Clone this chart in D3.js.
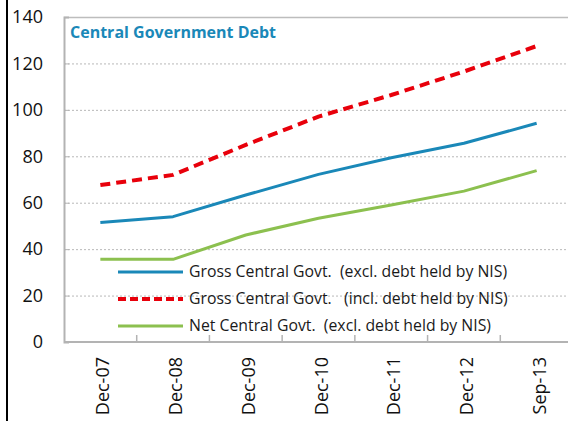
<!DOCTYPE html>
<html><head><meta charset="utf-8">
<script src="https://cdn.jsdelivr.net/npm/d3@7/dist/d3.min.js"></script>
<style>body{margin:0;background:#fff;overflow:hidden}svg{display:block}</style>
</head><body><svg id="c" width="568" height="421"></svg>
<script>
const categories = ["Dec-07","Dec-08","Dec-09","Dec-10","Dec-11","Dec-12","Sep-13"];
const grossExcl = [51.5, 54, 63.3, 72.2, 79.4, 85.6, 94.2];
const grossIncl = [67.6, 72, 84.9, 97.1, 106.4, 116.5, 127.5];
const netExcl   = [35.6, 35.6, 46.1, 53.3, 59, 65, 73.8];
const yTicks = [0,20,40,60,80,100,120,140];
const seriesNames = ["Gross Central Govt.  (excl. debt held by NIS)","Gross Central Govt.   (incl. debt held by NIS)","Net Central Govt.  (excl. debt held by NIS)"];
const title = "Central Government Debt";

const svg = d3.select("#c");
const font = "'Open Sans', sans-serif";
const L = 64, R = 573, T = 17, B = 342;
const x = d3.scaleBand().domain(categories).range([L, R]);
const y = d3.scaleLinear().domain([0, 140]).range([B, T]);

// outer black left border
svg.append("line").attr("x1",7).attr("x2",7).attr("y1",0).attr("y2",421).attr("stroke","#000").attr("stroke-width",2);

// gridlines
svg.append("g").selectAll("line").data(yTicks.filter(d=>d>0 && d<140)).join("line")
  .attr("x1",L).attr("x2",R).attr("y1",d=>y(d)+0.5).attr("y2",d=>y(d)+0.5)
  .attr("stroke","#b8b8b8").attr("stroke-width",1).attr("stroke-dasharray","2,2");
// top border
svg.append("line").attr("x1",L).attr("x2",R).attr("y1",y(140)+0.5).attr("y2",y(140)+0.5).attr("stroke","#bdbdbd").attr("stroke-width",1.5);

// y axis
const ya = svg.append("g").attr("transform",`translate(${L},0)`)
  .call(d3.axisLeft(y).tickValues(yTicks).tickSize(-5).tickPadding(21));
ya.select(".domain").attr("stroke","#b3b3b3").attr("stroke-width",2);
ya.selectAll(".tick line").attr("stroke","#b3b3b3");
ya.selectAll("text").attr("font-family",font).attr("font-size",18).attr("fill","#111");

// x axis
const xa = svg.append("g").attr("transform",`translate(0,${B})`);
xa.append("line").attr("x1",L).attr("x2",R).attr("y1",0).attr("y2",0).attr("stroke","#b3b3b3").attr("stroke-width",2);
xa.selectAll("line.t").data(categories.slice(1)).join("line").attr("class","t")
  .attr("x1",d=>x(d)).attr("x2",d=>x(d)).attr("y1",0).attr("y2",-7).attr("stroke","#b3b3b3").attr("stroke-width",1.5);
xa.selectAll("text").data(categories).join("text")
  .attr("transform",d=>`translate(${x(d)+x.bandwidth()/2+9},15) rotate(-90)`)
  .attr("text-anchor","end").attr("font-family",font).attr("font-size",18).attr("fill","#111").text(d=>d);

// title
svg.append("text").attr("x",70).attr("y",38).attr("font-family",font).attr("font-weight","bold")
  .attr("font-size",16).attr("fill","#1a88b8").text(title);

// lines
const line = d3.line().x((d,i)=>x(categories[i])+x.bandwidth()/2).y(d=>y(d));
const series = [
  {v: grossExcl, c:"#1a88b8", dash:null, w:3},
  {v: grossIncl, c:"#e8000b", dash:"10,6", w:4},
  {v: netExcl, c:"#8cc04f", dash:null, w:3}
];
series.forEach(s=>{
  svg.append("path").datum(s.v).attr("d",line).attr("fill","none").attr("stroke",s.c)
    .attr("stroke-width",s.w).attr("stroke-dasharray",s.dash).attr("stroke-linejoin","round");
});

// legend
const ly = [272, 299, 326];
series.forEach((s,i)=>{
  svg.append("line").attr("x1",118).attr("x2",183).attr("y1",ly[i]).attr("y2",ly[i])
    .attr("stroke",s.c).attr("stroke-width",s.w).attr("stroke-dasharray",s.dash ? "8,4" : null);
  svg.append("text").attr("x",189).attr("y",ly[i]+5).attr("font-family",font).attr("font-size",15.8)
    .attr("fill","#1a1a1a").attr("xml:space","preserve").style("white-space","pre").text(seriesNames[i]);
});
</script></body></html>
